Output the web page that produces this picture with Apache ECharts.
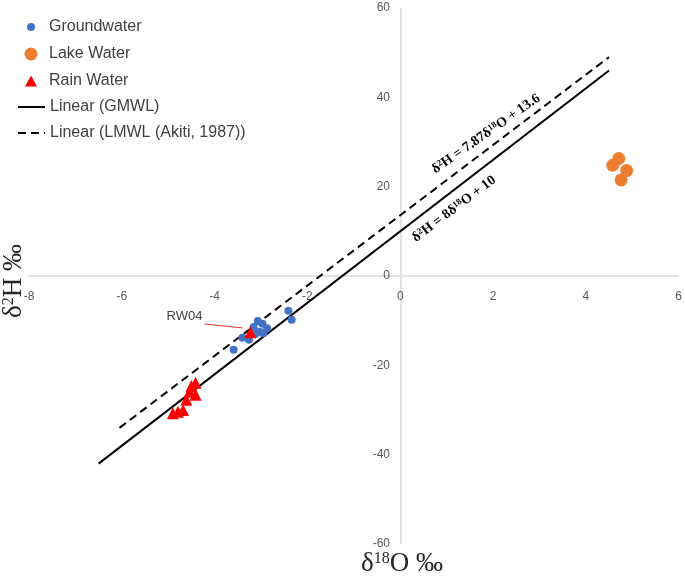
<!DOCTYPE html>
<html><head><meta charset="utf-8">
<script src="https://cdn.jsdelivr.net/npm/echarts@6/dist/echarts.min.js"></script>
<style>html,body{margin:0;padding:0;background:#fff}#c{width:685px;height:582px}</style>
</head><body><div id="c"></div><script>
// ---- data ----
const groundwater = [[-2.41,-7.8],[-2.34,-9.8],[-3.07,-10.1],[-2.97,-10.7],[-2.87,-11.7],[-3.03,-12.5],[-3.12,-13.0],[-3.26,-14.3],[-3.40,-13.8],[-3.59,-16.5],[-3.16,-11.4],[-2.95,-12.8]];
const lakeWater = [[4.71,26.3],[4.58,24.8],[4.88,23.6],[4.76,21.5]];
const rainWater = [[-4.41,-23.9],[-4.50,-24.6],[-4.41,-26.6],[-4.54,-25.9],[-4.61,-27.7],[-4.68,-30.0],[-4.79,-30.4],[-4.90,-30.7],[-3.23,-12.6]];
const gmwlLine = [[-6.5,-42],[4.5,46]];
const lmwlLine = [[-6.05,-34],[4.5,49]];
const seriesNames = ['Groundwater','Lake Water','Rain Water','Linear (GMWL)','Linear (LMWL (Akiti, 1987))'];
const xRange = [-8, 6, 2];
const yRange = [-60, 60, 20];
const gmwlLabelAt = [1.16, 15.0];
const lmwlLabelAt = [1.85, 31.8];
const rw04Arrow = [[-4.215,-10.74],[-3.40,-11.63]];
const rw04TextAt = [-4.65,-8.95];

// layout
const W = 685, H = 582;
const grid = {left:29, right:5, top:8, bottom:38};
const plotW = W - grid.left - grid.right, plotH = H - grid.top - grid.bottom;
const yZeroOffset = -plotH * (0 - yRange[0]) / (yRange[1] - yRange[0]);
const xZeroOffset = -plotW * (0 - xRange[0]) / (xRange[1] - xRange[0]);

const chart = echarts.init(document.getElementById('c'), null, {renderer:'canvas'});
const axisLineStyle = {show:true, onZero:false, lineStyle:{color:'#d9d9d9', width:1.5}};
const labelBase = {color:'#595959', fontSize:12, fontFamily:'Liberation Sans'};
const eqRich = {
  b:{fontFamily:'Liberation Serif', fontWeight:'bold', fontSize:14, color:'#000'},
  s:{fontFamily:'Liberation Serif', fontWeight:'bold', fontSize:9, color:'#000', verticalAlign:'top'}
};
const nameRich = {
  a:{fontFamily:'Liberation Serif', fontSize:27, fill:'#262626'},
  s:{fontFamily:'Liberation Serif', fontSize:16, fill:'#262626', verticalAlign:'top'}
};
function legendItem(name, top, w, h, left, padLeft, extra){
  return Object.assign({show:true, data:[name], left:left, top:top, orient:'vertical', padding:0,
    itemWidth:w, itemHeight:h,
    textStyle:{fontSize:16, color:'#404040', fontFamily:'Liberation Sans', padding:[0,0,0,padLeft]}}, extra || {});
}
chart.setOption({
  animation:false,
  backgroundColor:'#fff',
  grid:Object.assign({containLabel:false}, grid),
  xAxis:{type:'value', min:xRange[0], max:xRange[1], interval:xRange[2], position:'bottom', offset:yZeroOffset,
    axisLine:axisLineStyle, axisTick:{show:false}, splitLine:{show:false},
    axisLabel:Object.assign({margin:15}, labelBase)},
  yAxis:{type:'value', min:yRange[0], max:yRange[1], interval:yRange[2], position:'left', offset:xZeroOffset,
    axisLine:axisLineStyle, axisTick:{show:false}, splitLine:{show:false},
    axisLabel:Object.assign({margin:11}, labelBase)},
  legend:[
    legendItem(seriesNames[0], 19, 8, 8, 27, 9),
    legendItem(seriesNames[1], 46, 13, 13, 24.5, 6.5),
    legendItem(seriesNames[2], 73, 12, 11, 25, 7),
    legendItem(seriesNames[3], 99, 27, 14, 17, 0, {itemStyle:{opacity:0}}),
    legendItem(seriesNames[4], 125, 27, 14, 17, 0, {itemStyle:{opacity:0}})
  ],
  graphic:[
    {type:'text', x:402, y:564, silent:true, style:{text:'{a|δ}{s|18}{a|O ‰}', align:'center', verticalAlign:'middle', rich:nameRich}},
    {type:'text', x:14, y:281, rotation:Math.PI/2, silent:true, style:{text:'{a|δ}{s|2}{a|H ‰}', align:'center', verticalAlign:'middle', rich:nameRich}}
  ],
  series:[
    {name:seriesNames[3], type:'line', data:gmwlLine, symbol:'none', z:2,
      lineStyle:{color:'#000', width:2, type:'solid'}, itemStyle:{color:'#000'},
      markPoint:{symbol:'circle', symbolSize:0, silent:true, itemStyle:{color:'rgba(0,0,0,0)'},
        label:{show:true, position:'inside', rotate:37, formatter:'{b|δ}{s|2}{b|H = 8δ}{s|18}{b|O + 10}', rich:eqRich},
        data:[{coord:gmwlLabelAt}]}},
    {name:seriesNames[4], type:'line', data:lmwlLine, symbol:'none', z:2,
      lineStyle:{color:'#000', width:2, type:[8,5]}, itemStyle:{color:'#000'},
      markPoint:{symbol:'circle', symbolSize:0, silent:true, itemStyle:{color:'rgba(0,0,0,0)'},
        label:{show:true, position:'inside', rotate:35, formatter:'{b|δ}{s|2}{b|H = 7.87δ}{s|18}{b|O + 13.6}', rich:eqRich},
        data:[{coord:lmwlLabelAt}]}},
    {name:seriesNames[0], type:'scatter', data:groundwater, symbol:'circle', symbolSize:8, z:3,
      itemStyle:{color:'#4472C4', opacity:1}},
    {name:seriesNames[1], type:'scatter', data:lakeWater, symbol:'circle', symbolSize:13, z:3,
      itemStyle:{color:'#ED7D31', opacity:1}},
    {name:seriesNames[2], type:'scatter', data:rainWater, symbol:'triangle', symbolSize:12, z:4,
      itemStyle:{color:'#FF0000', opacity:1},
      markLine:{silent:true, symbol:['none','arrow'], symbolSize:[0,7], lineStyle:{color:'#E03030', width:1, type:'solid'},
        label:{show:false}, data:[[{coord:rw04Arrow[0]},{coord:rw04Arrow[1]}]]},
      markPoint:{symbol:'circle', symbolSize:0, silent:true, itemStyle:{color:'rgba(0,0,0,0)'},
        label:{show:true, position:'inside', formatter:'RW04', fontSize:13, color:'#404040', fontFamily:'Liberation Sans'},
        data:[{coord:rw04TextAt}]}}
  ]
});
</script></body></html>
